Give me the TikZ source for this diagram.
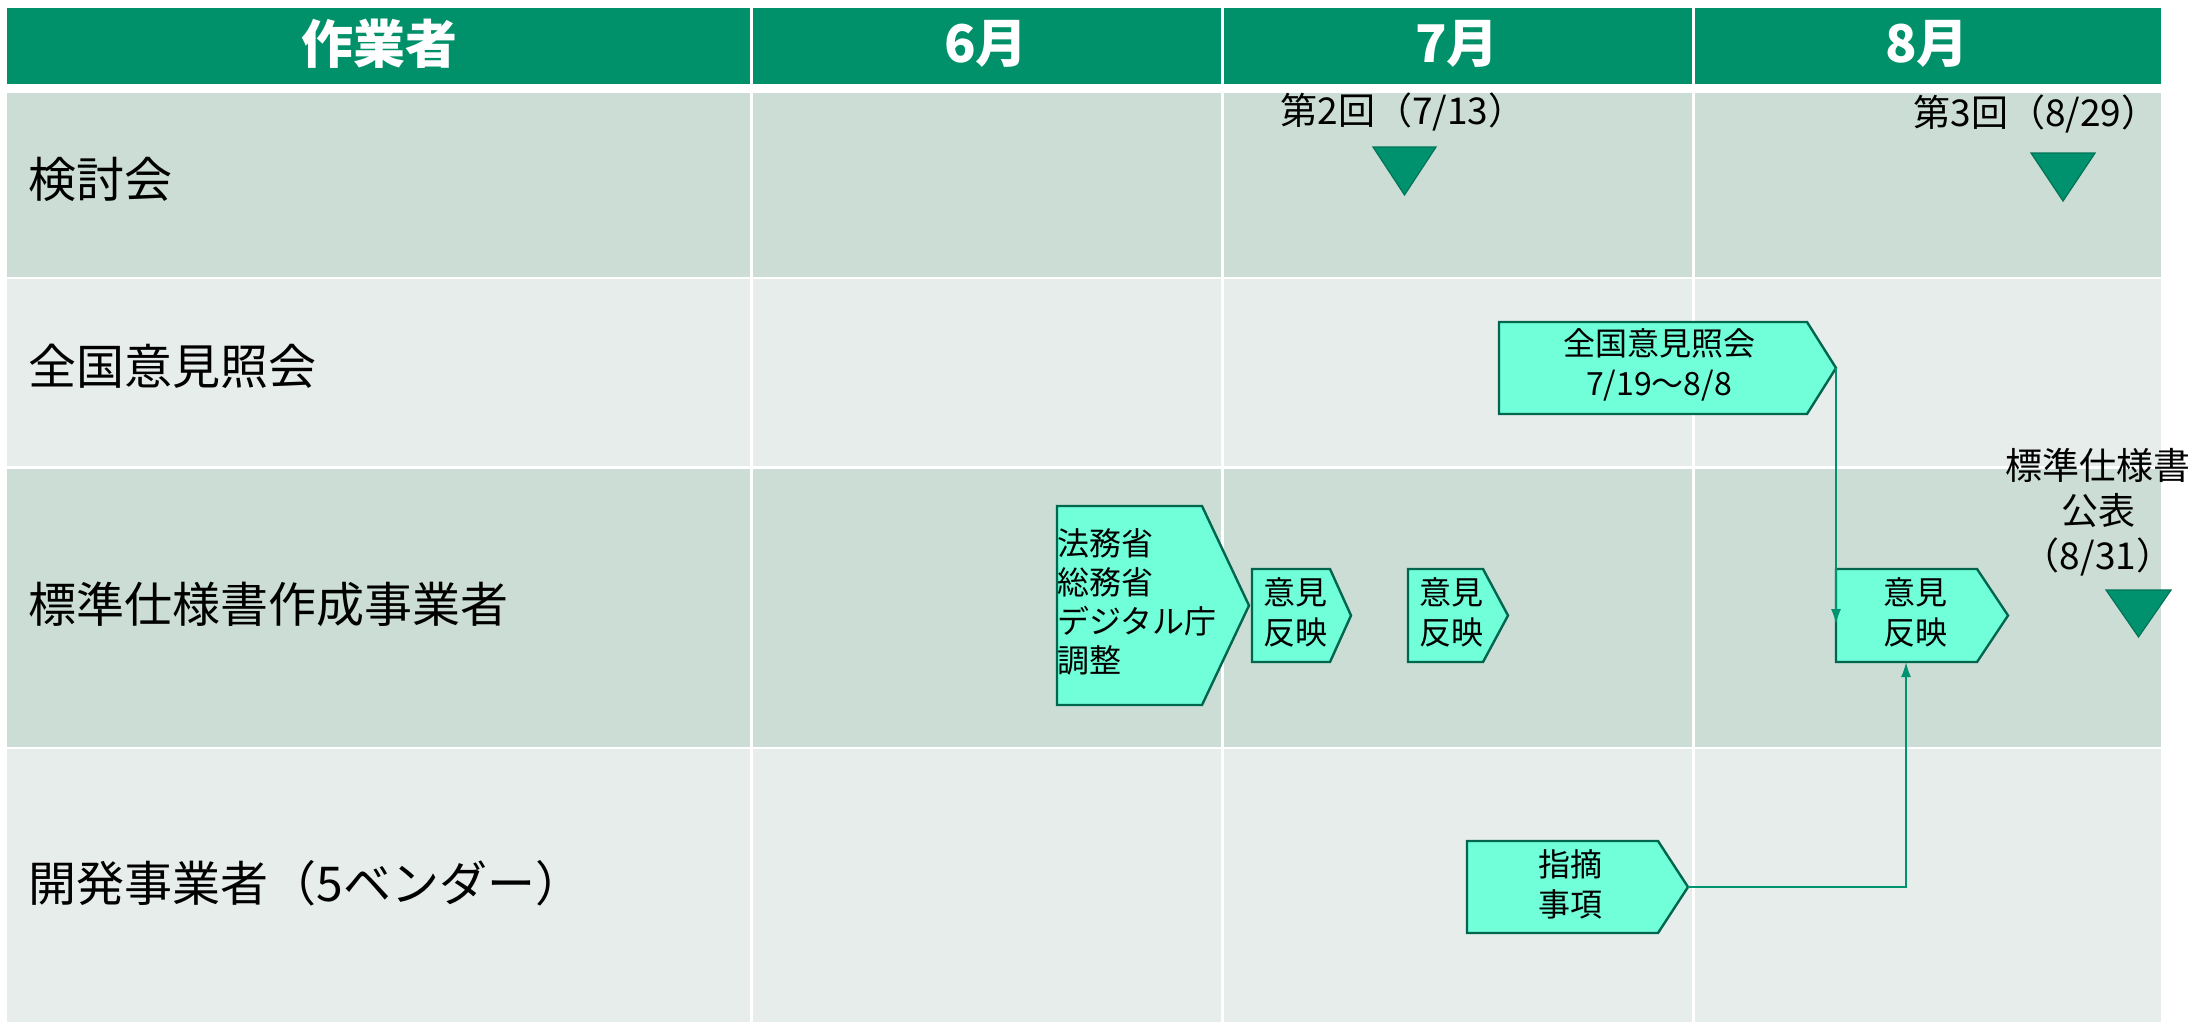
\documentclass[tikz,border=0pt]{standalone}
\usepackage{fontspec}
\setmainfont{Noto Sans CJK JP}
\usetikzlibrary{arrows.meta}
\definecolor{hdr}{HTML}{00916B}
\definecolor{rowA}{HTML}{CBDDD5}
\definecolor{rowB}{HTML}{E7EDEB}
\definecolor{boxfill}{HTML}{70FFD8}
\definecolor{boxline}{HTML}{00664D}
\definecolor{tri}{HTML}{00916E}
\definecolor{triline}{HTML}{007556}
\definecolor{conn}{HTML}{00936F}
\tikzset{
  hdrtext/.style={text=white,font=\fontsize{26pt}{30pt}\selectfont\bfseries,inner sep=0pt},
  rowlabel/.style={anchor=west,font=\fontsize{24pt}{28pt}\selectfont,inner sep=0pt},
  annot/.style={align=center,font=\fontsize{18.5pt}{22.5pt}\selectfont,inner sep=0pt},
  boxtext/.style={align=center,font=\fontsize{16pt}{20pt}\selectfont,inner sep=0pt},
  pentbox/.style={fill=boxfill,draw=boxline,line width=1.2pt,line join=miter},
  milestone/.style={fill=tri,draw=triline,line width=0.6pt},
  connector/.style={draw=conn,line width=0.8pt,-{Latex[length=7.5pt,width=5pt]}},
  divider/.style={white,line width=1.5pt}
}
\newcommand\pentagon[6]{%
  \draw[pentbox] (#2,#5) -- (#3,#5) -- (#4,{(#5+#6)/2}) -- (#3,#6) -- (#2,#6) -- cycle;
  \coordinate (#1-tip) at (#4,{(#5+#6)/2});
}
\begin{document}
\begin{tikzpicture}[x=0.5pt,y=-0.5pt]
\useasboundingbox[fill=white] (0,0) rectangle (2188,1022);
% header
\fill[hdr] (7,8) rectangle (2161,84);
% rows
\fill[rowA] (7,93) rectangle (2161,277);
\fill[rowB] (7,279) rectangle (2161,466);
\fill[rowA] (7,469) rectangle (2161,747);
\fill[rowB] (7,749) rectangle (2161,1022);
% column dividers
\foreach \cx in {751,1222,1693} {
  \draw[divider] (\cx,8) -- (\cx,1022);
}
% header texts
\node[hdrtext] (h0) at (379,44) {作業者};
\node[hdrtext] (h6) at (986,44) {6月};
\node[hdrtext] (h7) at (1457,44) {7月};
\node[hdrtext] (h8) at (1927,44) {8月};
% row labels
\node[rowlabel] (r1) at (28,179) {検討会};
\node[rowlabel] (r2) at (28,366) {全国意見照会};
\node[rowlabel] (r3) at (28,604) {標準仕様書作成事業者};
\node[rowlabel] (r4) at (28,883) {開発事業者（5ベンダー）};
% milestones
\node[annot] (m2t) at (1403,112) {第2回（7/13）};
\draw[milestone] (1373,147) -- (1436,147) -- (1404.5,195) -- cycle;
\node[annot] (m3t) at (2036,114) {第3回（8/29）};
\draw[milestone] (2031,153) -- (2095,153) -- (2063,201) -- cycle;
\node[annot] (pub) at (2098,512) {標準仕様書\\公表\\（8/31）};
\draw[milestone] (2106,590) -- (2171,590) -- (2138.5,637) -- cycle;
% boxes
\pentagon{A}{1499}{1807}{1836}{322}{414}
\node[boxtext] (Atext) at (1659,365) {全国意見照会\\7/19～8/8};
\pentagon{B}{1057}{1202}{1249}{506}{705}
\node[boxtext,align=left,anchor=west,font=\fontsize{16pt}{19.5pt}\selectfont] (Btext) at (1057,602) {法務省\\総務省\\デジタル庁\\調整};
\pentagon{C}{1252}{1330}{1351}{569}{662}
\node[boxtext] (Ctext) at (1295,612) {意見\\反映};
\pentagon{D}{1408}{1483}{1508}{569}{662}
\node[boxtext] (Dtext) at (1451,612) {意見\\反映};
\pentagon{E}{1836}{1977}{2008}{569}{662}
\node[boxtext] (Etext) at (1915,612) {意見\\反映};
\pentagon{F}{1467}{1658}{1688}{841}{933}
\node[boxtext] (Ftext) at (1570,884) {指摘\\事項};
% connectors
\coordinate (E-in) at (1836,624);
\coordinate (E-bot) at (1906,662);
\draw[connector] (A-tip) -- (E-in);
\draw[connector] (F-tip) -| (E-bot);
\end{tikzpicture}
\end{document}
